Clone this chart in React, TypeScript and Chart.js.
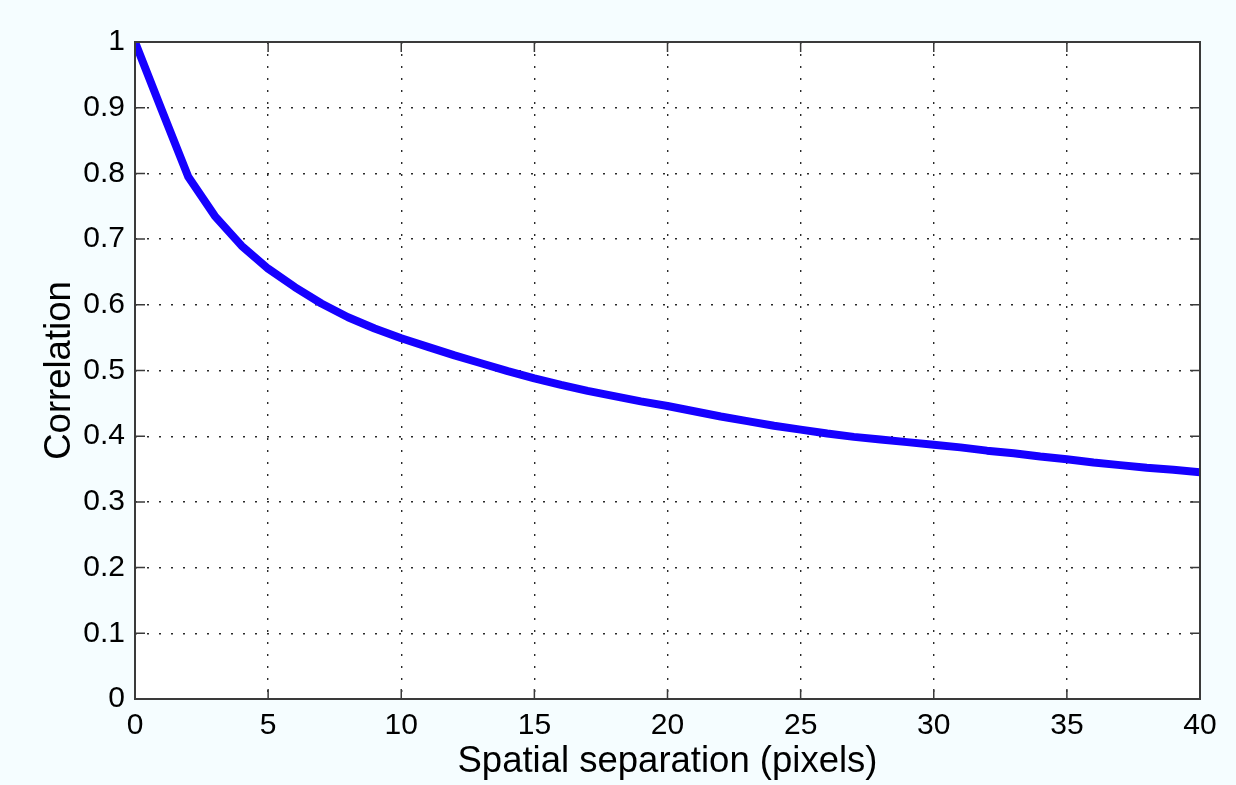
import React, { useEffect, useRef } from "react";
import { Chart, registerables } from "chart.js";

Chart.register(...registerables);

const separation = [
  0, 1, 2, 3, 4, 5, 6, 7, 8, 9, 10, 11, 12, 13, 14, 15, 16, 17, 18, 19, 20,
  21, 22, 23, 24, 25, 26, 27, 28, 29, 30, 31, 32, 33, 34, 35, 36, 37, 38, 39, 40,
];
const correlation = [
  1.0, 0.897, 0.795, 0.735, 0.69, 0.655, 0.627, 0.602, 0.581, 0.564, 0.549,
  0.536, 0.523, 0.511, 0.499, 0.488, 0.478, 0.469, 0.461, 0.453, 0.446,
  0.438, 0.43, 0.423, 0.416, 0.41, 0.404, 0.399, 0.395, 0.391, 0.387,
  0.383, 0.378, 0.374, 0.369, 0.365, 0.36, 0.356, 0.352, 0.349, 0.345,
];
const xTicks = [0, 5, 10, 15, 20, 25, 30, 35, 40];
const yTicks = [0, 0.1, 0.2, 0.3, 0.4, 0.5, 0.6, 0.7, 0.8, 0.9, 1];
const xTitle = "Spatial separation (pixels)";
const yTitle = "Correlation";

const FONT = "'Liberation Sans', Arial, Helvetica, sans-serif";

const framePlugin = {
  id: "frame",
  beforeDraw(chart: any) {
    const { ctx, chartArea } = chart;
    ctx.save();
    ctx.fillStyle = "#F5FDFF";
    ctx.fillRect(0, 0, chart.width, chart.height);
    ctx.fillStyle = "#FFFFFF";
    ctx.fillRect(
      chartArea.left,
      chartArea.top,
      chartArea.right - chartArea.left,
      chartArea.bottom - chartArea.top
    );
    ctx.restore();
  },
  afterDraw(chart: any) {
    const { ctx, chartArea } = chart;
    const { left, right, top, bottom } = chartArea;
    const xs = chart.scales.x;
    const ys = chart.scales.y;
    const len = 10;
    ctx.save();
    ctx.strokeStyle = "#3a3a3a";
    ctx.lineWidth = 1.5;
    ctx.beginPath();
    xTicks.forEach((v) => {
      const px = xs.getPixelForValue(v);
      ctx.moveTo(px, bottom);
      ctx.lineTo(px, bottom - len);
      ctx.moveTo(px, top);
      ctx.lineTo(px, top + len);
    });
    yTicks.forEach((v) => {
      const py = ys.getPixelForValue(v);
      ctx.moveTo(left, py);
      ctx.lineTo(left + len, py);
      ctx.moveTo(right, py);
      ctx.lineTo(right - len, py);
    });
    ctx.stroke();
    ctx.lineWidth = 2;
    ctx.strokeRect(left, top, right - left, bottom - top);
    ctx.restore();
  },
};

export default function App() {
  const canvasRef = useRef<HTMLCanvasElement | null>(null);

  useEffect(() => {
    document.body.style.margin = "0";
    document.body.style.background = "#F5FDFF";
    const canvas = canvasRef.current;
    if (!canvas) return;
    const chart = new Chart(canvas, {
      type: "line",
      data: {
        datasets: [
          {
            data: separation.map((x, i) => ({ x, y: correlation[i] })),
            borderColor: "rgb(22,0,255)",
            borderWidth: 8,
            pointRadius: 0,
            tension: 0,
            borderJoinStyle: "round",
            fill: false,
            clip: { left: 0, top: 0, right: 0, bottom: 0 } as any,
          },
        ],
      },
      options: {
        animation: false,
        responsive: false,
        devicePixelRatio: 1,
        layout: { padding: { top: 42, right: 36, left: 0, bottom: 0 } },
        plugins: {
          legend: { display: false },
          tooltip: { enabled: false },
        },
        scales: {
          x: {
            type: "linear",
            min: 0,
            max: 40,
            afterBuildTicks: (scale: any) => {
              scale.ticks = xTicks.map((v) => ({ value: v }));
            },
            afterFit: (scale: any) => {
              scale.height = 86;
            },
            ticks: {
              padding: 9,
              color: "#000",
              font: { family: FONT, size: 30 },
              maxRotation: 0,
              autoSkip: false,
            },
            grid: {
              color: "#2a2a2a",
              lineWidth: 1.4,
              drawTicks: false,
            },
            border: { display: false, dash: [2, 10] },
            title: {
              display: true,
              text: xTitle,
              color: "#000",
              font: { family: FONT, size: 36.5 },
              padding: { top: 0, bottom: 1 },
            },
          },
          y: {
            type: "linear",
            min: 0,
            max: 1,
            afterBuildTicks: (scale: any) => {
              scale.ticks = yTicks.map((v) => ({ value: v }));
            },
            afterFit: (scale: any) => {
              scale.width = 135;
            },
            ticks: {
              padding: 10,
              color: "#000",
              font: { family: FONT, size: 30 },
              autoSkip: false,
              callback: (v: any) => String(Math.round(Number(v) * 10) / 10),
            },
            grid: {
              color: "#2a2a2a",
              lineWidth: 1.4,
              drawTicks: false,
            },
            border: { display: false, dash: [2, 10] },
            title: {
              display: true,
              text: yTitle,
              color: "#000",
              font: { family: FONT, size: 36.5 },
              padding: { top: 38, bottom: 0 },
            },
          },
        },
      },
      plugins: [framePlugin],
    });
    return () => chart.destroy();
  }, []);

  return (
    <div style={{ width: 1236, height: 785 }}>
      <canvas
        ref={canvasRef}
        width={1236}
        height={785}
        style={{ display: "block", width: 1236, height: 785 }}
      />
    </div>
  );
}
